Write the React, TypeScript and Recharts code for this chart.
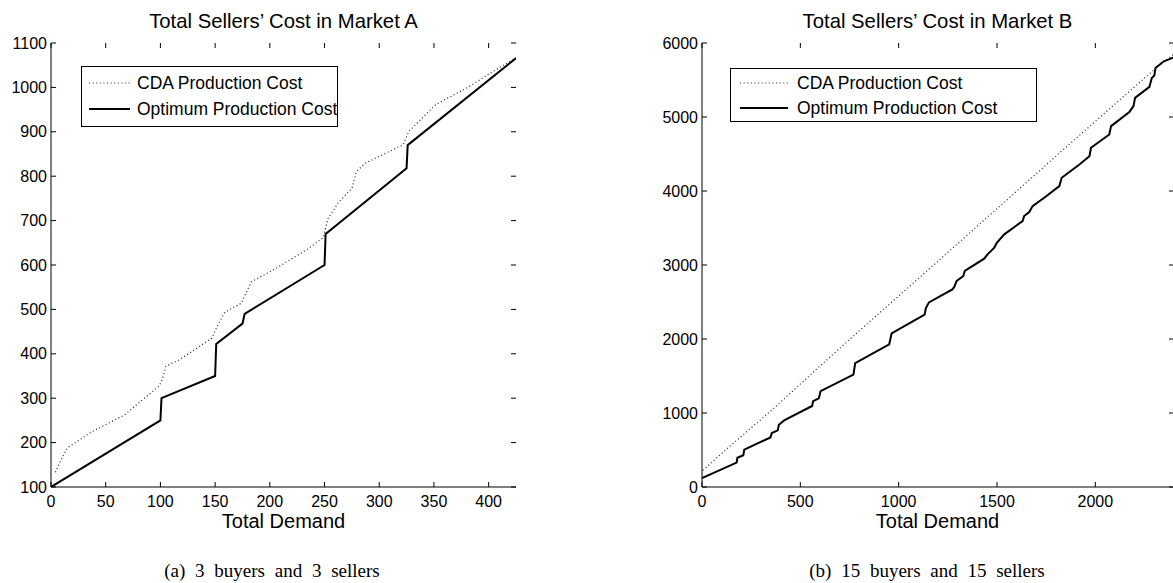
import React from 'react';
import { LineChart, Line, XAxis, YAxis, Legend } from 'recharts';

const FONT = '"Liberation Sans", Arial, Helvetica, sans-serif';
const SERIF = '"Liberation Serif", "Times New Roman", serif';

// ---------- Market A (3 buyers, 3 sellers) ----------
const aCdaDemand = [4, 10, 15, 37, 67, 99, 102, 105, 117, 147, 153, 159, 174, 178, 183, 204, 234, 249, 253, 263, 275, 279, 287, 322, 327, 352, 381, 410, 425];
const aCdaCost = [133, 165, 188, 224, 262, 328, 345, 372, 386, 435, 468, 494, 514, 536, 562, 590, 635, 662, 704, 742, 772, 810, 829, 871, 901, 962, 1000, 1045, 1066];
const aOptDemand = [0, 100, 101, 150, 151, 175, 177, 250, 251, 325, 326, 425];
const aOptCost = [100, 250, 300, 350, 422, 468, 490, 600, 670, 818, 870, 1066];
const aXTicks = [0, 50, 100, 150, 200, 250, 300, 350, 400];
const aYTicks = [100, 200, 300, 400, 500, 600, 700, 800, 900, 1000, 1100];

// ---------- Market B (15 buyers, 15 sellers) ----------
const bCdaDemand = [5, 119, 365, 586, 772, 1095, 1553, 1876, 2309, 2400];
const bCdaCost = [225, 498, 1063, 1600, 2045, 2805, 3886, 4651, 5663, 5850];
const bOptDemand = [0, 176, 180, 210, 215, 348, 355, 385, 391, 420, 560, 565, 594, 603, 770, 779, 952, 964, 1132, 1138, 1154, 1273, 1282, 1295, 1329, 1336, 1435, 1452, 1486, 1499, 1537, 1630, 1638, 1664, 1681, 1740, 1817, 1829, 1919, 1970, 1978, 2071, 2080, 2173, 2194, 2202, 2275, 2287, 2300, 2306, 2348, 2400];
const bOptCost = [120, 330, 395, 430, 505, 670, 730, 765, 840, 905, 1095, 1160, 1197, 1296, 1520, 1675, 1928, 2075, 2330, 2415, 2495, 2670, 2700, 2784, 2852, 2919, 3085, 3144, 3234, 3301, 3414, 3594, 3661, 3715, 3796, 3909, 4066, 4179, 4359, 4471, 4584, 4764, 4877, 5066, 5146, 5259, 5407, 5528, 5560, 5663, 5753, 5805];
const bXTicks = [0, 500, 1000, 1500, 2000];
const bYTicks = [0, 1000, 2000, 3000, 4000, 5000, 6000];

const seriesNames = ['CDA Production Cost', 'Optimum Production Cost'];

const toPoints = (xs: number[], ys: number[]) => xs.map((x, i) => ({ x, y: ys[i] }));

const CHART_H = 583;
const M_TOP = 43;
const M_BOTTOM = 56;
const X_AXIS_H = 40;
const Y_AXIS_W = 50;
const PLOT_H = CHART_H - M_TOP - M_BOTTOM - X_AXIS_H;

const TICK_LEN = 5;
const TICK_COLOR = '#000';
const X_MARGIN = 9;
const Y_MARGIN = 4;
const CDA_STROKE = '#333';
const CDA_DASH = '1.1 2.5';

// Bottom axis tick: label + inward marks on the bottom and top frame
const makeBottomTick = (plotH: number) => (props: any) => {
  const { x, y, payload } = props;
  const axisY = y - X_MARGIN;
  const topY = axisY - plotH;
  return (
    <g>
      <line x1={x} x2={x} y1={axisY} y2={axisY - TICK_LEN} stroke={TICK_COLOR} strokeWidth={1} />
      <line x1={x} x2={x} y1={topY} y2={topY + TICK_LEN} stroke={TICK_COLOR} strokeWidth={1} />
      <text x={x} y={y} dy="0.71em" textAnchor="middle" fontFamily={FONT} fontSize={16} fill="#000">{payload.value}</text>
    </g>
  );
};

// Left axis tick: label + inward marks on the left and right frame
const makeLeftTick = (plotW: number) => (props: any) => {
  const { x, y, payload } = props;
  const axisX = x + Y_MARGIN;
  const rightX = axisX + plotW;
  return (
    <g>
      <line x1={axisX} x2={axisX + TICK_LEN} y1={y} y2={y} stroke={TICK_COLOR} strokeWidth={1} />
      <line x1={rightX} x2={rightX - TICK_LEN} y1={y} y2={y} stroke={TICK_COLOR} strokeWidth={1} />
      <text x={x} y={y} dy="0.355em" textAnchor="end" fontFamily={FONT} fontSize={16} fill="#000">{payload.value}</text>
    </g>
  );
};

type LegendGeom = {
  left: number; top: number; width: number; height: number;
  s0: number; s1: number; tx: number; rows: number[]; fontSize: number;
};

function LegendBox({ g }: { g: LegendGeom }) {
  return (
    <svg width={g.width} height={g.height} style={{ display: 'block' }}>
      <rect x={0.5} y={0.5} width={g.width - 1} height={g.height - 1} fill="#fff" stroke="#000" strokeWidth={1} />
      <line x1={g.s0} x2={g.s1} y1={g.rows[0]} y2={g.rows[0]} stroke={CDA_STROKE} strokeWidth={1.2} strokeDasharray={CDA_DASH} />
      <line x1={g.s0} x2={g.s1} y1={g.rows[1]} y2={g.rows[1]} stroke="#000" strokeWidth={2} />
      {seriesNames.map((n, i) => (
        <text key={n} x={g.tx} y={g.rows[i]} dy="0.36em" fontFamily={FONT} fontSize={g.fontSize} fill="#000">{n}</text>
      ))}
    </svg>
  );
}

type PanelProps = {
  left: number; width: number; marginLeft: number; marginRight: number;
  xDomain: [number, number]; xTicks: number[];
  yDomain: [number, number]; yTicks: number[];
  cda: { x: number; y: number }[]; opt: { x: number; y: number }[];
  legend: LegendGeom;
};

function Panel(p: PanelProps) {
  const axisStroke = '#000';
  const plotW = p.width - p.marginLeft - p.marginRight - Y_AXIS_W;
  const BottomTick = makeBottomTick(PLOT_H);
  const LeftTick = makeLeftTick(plotW);
  return (
    <div style={{ position: 'absolute', left: p.left, top: 0 }}>
      <LineChart width={p.width} height={CHART_H} margin={{ top: M_TOP, right: p.marginRight, bottom: M_BOTTOM, left: p.marginLeft }}>
        <XAxis xAxisId="b" type="number" dataKey="x" domain={p.xDomain} ticks={p.xTicks} interval={0}
          orientation="bottom" height={X_AXIS_H} tickLine={false} tickSize={0} tickMargin={X_MARGIN}
          stroke={axisStroke} tick={BottomTick} allowDataOverflow />
        <XAxis xAxisId="t" type="number" dataKey="x" domain={p.xDomain} ticks={p.xTicks} interval={0}
          orientation="top" height={0} tickLine={false} tick={false}
          stroke={axisStroke} allowDataOverflow />
        <YAxis yAxisId="l" type="number" domain={p.yDomain} ticks={p.yTicks} interval={0}
          width={Y_AXIS_W} tickLine={false} tickSize={0} tickMargin={Y_MARGIN}
          stroke={axisStroke} tick={LeftTick} allowDataOverflow />
        <YAxis yAxisId="r" type="number" orientation="right" domain={p.yDomain} ticks={p.yTicks} interval={0}
          width={0} tickLine={false} tick={false}
          stroke={axisStroke} allowDataOverflow />
        <Legend layout="vertical" align="center" verticalAlign="middle"
          wrapperStyle={{ position: 'absolute', left: p.legend.left, top: p.legend.top, width: p.legend.width, height: p.legend.height }}
          content={() => <LegendBox g={p.legend} />} />
        <Line xAxisId="b" yAxisId="l" data={p.cda} dataKey="y" name={seriesNames[0]} type="linear"
          stroke={CDA_STROKE} strokeWidth={1.2} strokeDasharray={CDA_DASH} dot={false} activeDot={false} isAnimationActive={false} />
        <Line xAxisId="b" yAxisId="l" data={p.opt} dataKey="y" name={seriesNames[1]} type="linear"
          stroke="#000" strokeWidth={2} dot={false} activeDot={false} isAnimationActive={false} />
        <Line xAxisId="t" yAxisId="r" data={p.opt} dataKey="y" type="linear" stroke="none" strokeWidth={0}
          dot={false} activeDot={false} isAnimationActive={false} legendType="none" />
      </LineChart>
    </div>
  );
}

export default function App() {
  return (
    <div style={{ position: 'fixed', left: 0, top: 0, width: 1173, height: 583, overflow: 'hidden', background: '#fff' }}>
      <Panel left={0} width={520} marginLeft={1} marginRight={4}
        xDomain={[0, 425]} xTicks={aXTicks} yDomain={[100, 1100]} yTicks={aYTicks}
        cda={toPoints(aCdaDemand, aCdaCost)} opt={toPoints(aOptDemand, aOptCost)}
        legend={{ left: 81, top: 66, width: 257, height: 61, s0: 8, s1: 49, tx: 56, rows: [17, 43], fontSize: 17.5 }} />
      <Panel left={650} width={526} marginLeft={2} marginRight={2}
        xDomain={[0, 2400]} xTicks={bXTicks} yDomain={[0, 6000]} yTicks={bYTicks}
        cda={toPoints(bCdaDemand, bCdaCost)} opt={toPoints(bOptDemand, bOptCost)}
        legend={{ left: 80, top: 68, width: 307, height: 54, s0: 10, s1: 58, tx: 67, rows: [15, 40], fontSize: 17.5 }} />
      <svg width={1173} height={583} style={{ position: 'absolute', left: 0, top: 0, pointerEvents: 'none' }}>
        <text x={283.5} y={27.5} textAnchor="middle" fontFamily={FONT} fontSize={20.3} fill="#000">Total Sellers’ Cost in Market A</text>
        <text x={937.5} y={27.5} textAnchor="middle" fontFamily={FONT} fontSize={20.3} fill="#000">Total Sellers’ Cost in Market B</text>
        <text x={283.5} y={528} textAnchor="middle" fontFamily={FONT} fontSize={20} fill="#000">Total Demand</text>
        <text x={937.5} y={528} textAnchor="middle" fontFamily={FONT} fontSize={20} fill="#000">Total Demand</text>
        <text x={272} y={577} textAnchor="middle" fontFamily={SERIF} fontSize={19} wordSpacing={5} fill="#000">(a) 3 buyers and 3 sellers</text>
        <text x={927} y={577} textAnchor="middle" fontFamily={SERIF} fontSize={19} wordSpacing={5} fill="#000">(b) 15 buyers and 15 sellers</text>
      </svg>
    </div>
  );
}
